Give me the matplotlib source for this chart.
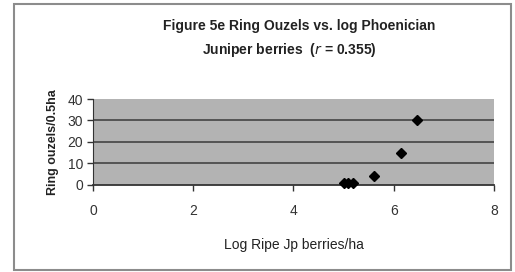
import matplotlib
matplotlib.use('Agg')
import matplotlib.pyplot as plt
from matplotlib.patches import Rectangle

# dati
log_berries = [5.01, 5.09, 5.19, 5.60, 6.15, 6.46]
ouzels = [1, 1, 1, 4, 15, 30]
x_ticks = [0, 2, 4, 6, 8]
y_ticks = [0, 10, 20, 30, 40]

plt.rcParams['font.family'] = ['Liberation Sans', 'DejaVu Sans']

fig = plt.figure(figsize=(5.15, 2.72), dpi=100)
ax = fig.add_axes([0.1806, 0.32, 0.7786, 0.316])

# cornice esterna
fig.patches.append(Rectangle((14/515, 2/272), 497/515, 266/272, transform=fig.transFigure,
                             fill=False, edgecolor='#8c8c8c', linewidth=1.5))

ax.set_facecolor('#b3b3b3')
for y in y_ticks[1:-1]:
    ax.axhline(y, color='#4d4d4d', linewidth=1.3, zorder=1)

ax.plot(log_berries, ouzels, 'D', color='black', markersize=5, zorder=3, clip_on=False)

ax.set_xlim(0, 8)
ax.set_ylim(0, 40)
ax.set_xticks(x_ticks)
ax.set_yticks(y_ticks)
ax.tick_params(axis='both', labelsize=10, colors='#333333', length=4, width=1, direction='out')
ax.tick_params(axis='x', pad=10)
ax.tick_params(axis='y', pad=3)

for s in ['top', 'right']:
    ax.spines[s].set_visible(False)
ax.spines['left'].set_color('#333333')
ax.spines['bottom'].set_color('#333333')
ax.spines['bottom'].set_linewidth(1.3)

fig.text(0.58, 0.905, 'Figure 5e Ring Ouzels vs. log Phoenician', ha='center', va='center',
         fontsize=10, fontweight='bold', color='#222222')
fig.text(0.562, 0.815, 'Juniper berries  ($\\it{r}$ = 0.355)', ha='center', va='center',
         fontsize=10, fontweight='bold', color='#222222')

ax.set_xlabel('Log Ripe Jp berries/ha', fontsize=10, color='#222222', labelpad=14)
ax.set_ylabel('Ring ouzels/0.5ha', fontsize=9, fontweight='bold', color='#222222', labelpad=6)

plt.savefig('out.png', dpi=100)
